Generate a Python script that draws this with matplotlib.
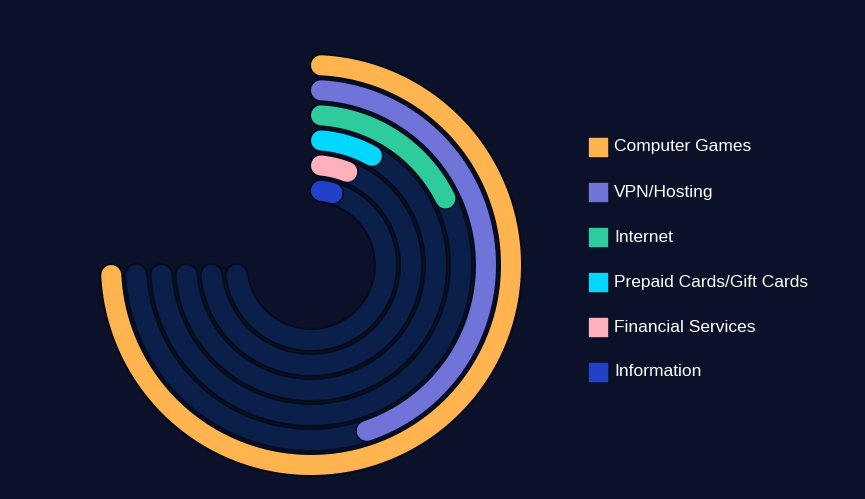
import numpy as np
import matplotlib.pyplot as plt

# percent of full 270-degree sweep
categories = ["Computer Games", "VPN/Hosting", "Internet",
              "Prepaid Cards/Gift Cards", "Financial Services", "Information"]
values = [100, 61, 25, 12.5, 10, 9]
colors = ["#ffb44f", "#7074d9", "#2ecc9c", "#00d8ff", "#ffb0bc", "#2340c8"]

bg = "#0a1128"
track = "#0b1f4b"

fig = plt.figure(figsize=(8.65, 4.99), dpi=100, facecolor=bg)
ax = fig.add_axes([0, 0, 1, 1])
ax.set_facecolor(bg)
ax.set_xlim(0, 865)
ax.set_ylim(499, 0)
ax.axis("off")

cx, cy = 311, 265
radii = [200, 175, 150, 125, 100, 75]
px = 72 / 100  # points per pixel

def arc(r, frac, color, lw, z):
    # keep round caps inside the sweep
    off = np.degrees(10 / r)
    t = np.radians(np.linspace(off, max(270 * frac / 100 - off, off + 1), 300))
    ax.plot(cx + r * np.sin(t), cy - r * np.cos(t), color=color,
            lw=lw * px, solid_capstyle="round", zorder=z)

for r, v, c in zip(radii, values, colors):
    arc(r, 100, "#060c1c", 24, 1)
    arc(r, 100, track, 20, 2)
    arc(r, v, "#060c1c", 23, 3)
    arc(r, v, c, 20, 4)

for i, (name, c) in enumerate(zip(categories, colors)):
    y = 147 + i * 45
    ax.scatter([598], [y], marker="s", s=150, color=c, zorder=5)
    ax.text(614, y, name, color="white", fontsize=12.5, va="center",
            family="Liberation Sans")

fig.savefig("out.png", dpi=100, facecolor=bg)
